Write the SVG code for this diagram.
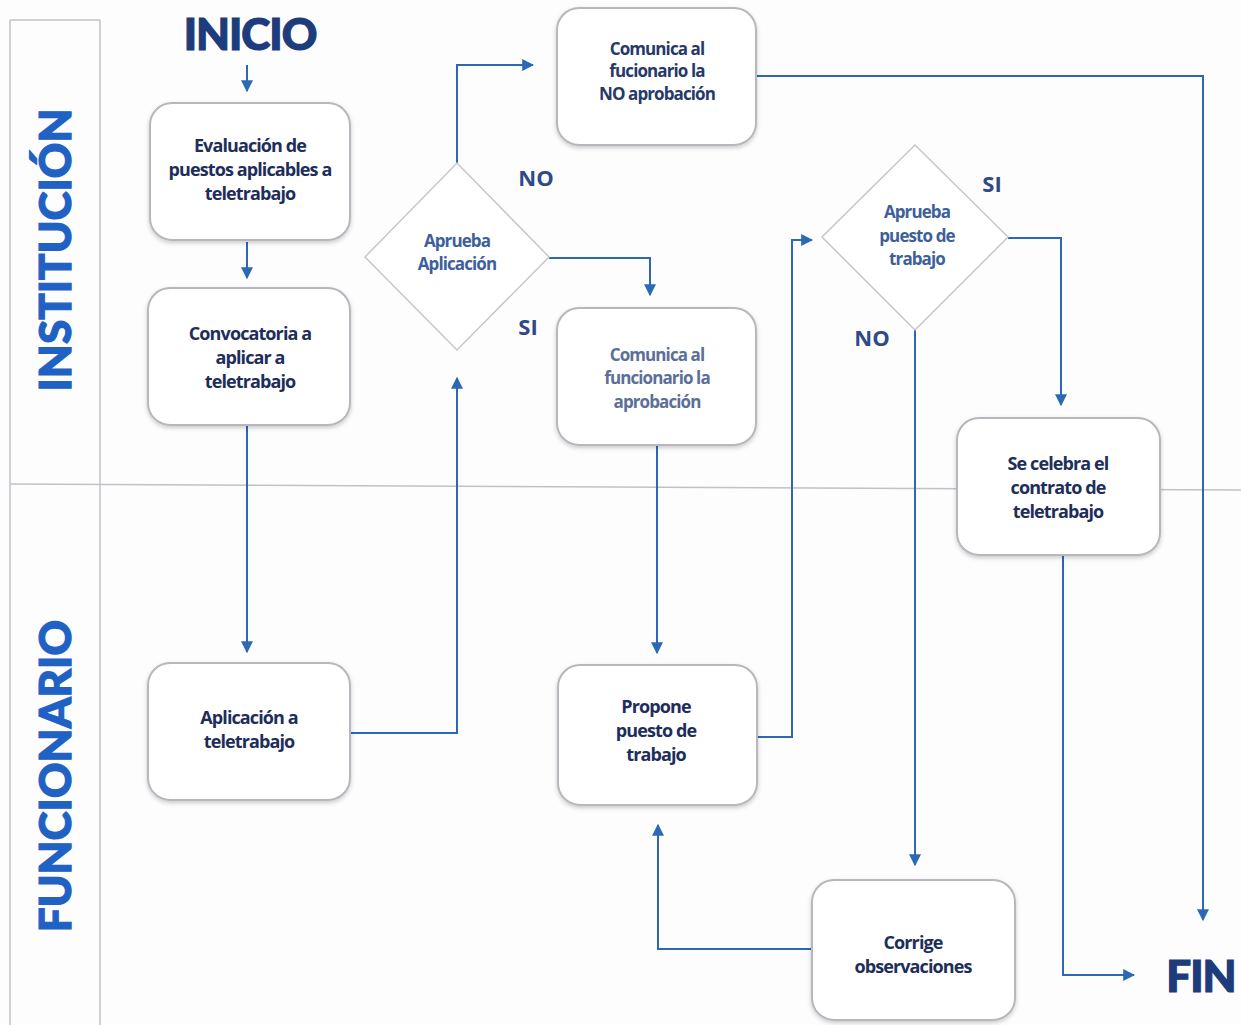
<svg xmlns="http://www.w3.org/2000/svg" width="1241" height="1025" viewBox="0 0 1241 1025">
<defs>
<style>
.box{fill:#fff;stroke:#b9b6bd;stroke-width:2}
.dia{fill:#fff;stroke:#c8c5cc;stroke-width:1.5}
.t{font-family:"Open Sans","Liberation Sans",sans-serif;font-weight:bold;font-size:18px;fill:#1d2e5a;text-anchor:middle;letter-spacing:-0.9px}
.tl{font-family:"Open Sans","Liberation Sans",sans-serif;font-weight:bold;font-size:17px;fill:#3d5f9c;text-anchor:middle;letter-spacing:-0.9px}
.lbl{font-family:"Open Sans","Liberation Sans",sans-serif;font-weight:bold;font-size:22px;fill:#2d4a86;text-anchor:middle}
.lane{font-family:Lato,"Liberation Sans",sans-serif;font-weight:900;font-size:44px;fill:#1f62c4;stroke:#1f62c4;stroke-width:1.2;text-anchor:middle}
.big{font-family:Lato,"Liberation Sans",sans-serif;font-weight:900;font-size:44px;fill:#1c3c7c;stroke:#1c3c7c;stroke-width:1.2;text-anchor:middle;letter-spacing:-1px}
.c{fill:none;stroke:#2b68b5;stroke-width:2}
.grid{stroke:#c3c0c8;stroke-width:1.5;fill:none}
</style>
<marker id="a" viewBox="0 0 10 10" refX="9" refY="5" markerWidth="6" markerHeight="6" orient="auto-start-reverse" markerUnits="strokeWidth">
<path d="M0,0 L10,5 L0,10 z" fill="#2b68b5"/>
</marker>
<filter id="sh" x="-10%" y="-10%" width="120%" height="125%">
<feDropShadow dx="0" dy="2" stdDeviation="2" flood-color="#000" flood-opacity="0.2"/>
</filter>
</defs>
<rect width="1241" height="1025" fill="#fdfdfd"/>
<g id="lanes">
<line class="grid" x1="10" y1="20" x2="10" y2="1025"/>
<line class="grid" x1="100" y1="20" x2="100" y2="1025"/>
<line class="grid" x1="10" y1="20" x2="100" y2="20"/>
<line class="grid" x1="10" y1="484" x2="1241" y2="490"/>
<text class="lane" transform="translate(71,250) rotate(-90)">INSTITUCIÓN</text>
<text class="lane" transform="translate(71,776) rotate(-90)">FUNCIONARIO</text>
</g>
<g id="connectors">
<line class="c" x1="247" y1="65" x2="247" y2="91" marker-end="url(#a)"/>
<line class="c" x1="247" y1="242" x2="247" y2="278" marker-end="url(#a)"/>
<line class="c" x1="247" y1="426" x2="247" y2="652" marker-end="url(#a)"/>
<polyline class="c" points="350,733 457,733 457,378" marker-end="url(#a)"/>
<polyline class="c" points="457,163 457,65 533,65" marker-end="url(#a)"/>
<polyline class="c" points="549,258 650,258 650,295" marker-end="url(#a)" stroke-width="1.5"/>
<line class="c" x1="657" y1="446" x2="657" y2="653" marker-end="url(#a)"/>
<polyline class="c" points="757,737 792,737 792,240 812,240" marker-end="url(#a)"/>
<polyline class="c" points="1008,238 1061,238 1061,405" marker-end="url(#a)"/>
<line class="c" x1="915" y1="330" x2="915" y2="865" marker-end="url(#a)"/>
<polyline class="c" points="812,949 658,949 658,825" marker-end="url(#a)"/>
<polyline class="c" points="756,76 1203,76 1203,920" marker-end="url(#a)"/>
<polyline class="c" points="1063,556 1063,975 1134,975" marker-end="url(#a)"/>
</g>
<g id="inicio"><text class="big" x="250" y="50">INICIO</text></g>
<g id="fin"><text class="big" x="1201" y="992">FIN</text></g>
<g id="evaluacion">
<rect class="box" x="150" y="103" width="200" height="137" rx="22" filter="url(#sh)"/>
<text class="t" x="250" y="152">Evaluación de</text>
<text class="t" x="250" y="176">puestos aplicables a</text>
<text class="t" x="250" y="200">teletrabajo</text>
</g>
<g id="convocatoria">
<rect class="box" x="148" y="288" width="202" height="137" rx="22" filter="url(#sh)"/>
<text class="t" x="250" y="340">Convocatoria a</text>
<text class="t" x="250" y="364">aplicar a</text>
<text class="t" x="250" y="388">teletrabajo</text>
</g>
<g id="aplicacion">
<rect class="box" x="148" y="663" width="202" height="137" rx="22" filter="url(#sh)"/>
<text class="t" x="249" y="724">Aplicación a</text>
<text class="t" x="249" y="748">teletrabajo</text>
</g>
<g id="aprueba-aplicacion">
<polygon class="dia" points="457,163 549,257 457,350 365,257"/>
<text class="tl" x="457" y="247">Aprueba</text>
<text class="tl" x="457" y="270">Aplicación</text>
</g>
<g id="comunica-no">
<rect class="box" x="557" y="8" width="199" height="137" rx="22" filter="url(#sh)"/>
<text class="tl" x="657" y="55" style="fill:#26396a">Comunica al</text>
<text class="tl" x="657" y="77" style="fill:#26396a">fucionario la</text>
<text class="tl" x="657" y="100" style="fill:#26396a">NO aprobación</text>
</g>
<g id="comunica-si">
<rect class="box" x="557" y="308" width="199" height="137" rx="22" filter="url(#sh)"/>
<text class="tl" x="657" y="361" style="fill:#5b6f98">Comunica al</text>
<text class="tl" x="657" y="384" style="fill:#5b6f98">funcionario la</text>
<text class="tl" x="657" y="408" style="fill:#5b6f98">aprobación</text>
</g>
<g id="propone">
<rect class="box" x="558" y="665" width="199" height="140" rx="22" filter="url(#sh)"/>
<text class="t" x="656" y="713">Propone</text>
<text class="t" x="656" y="737">puesto de</text>
<text class="t" x="656" y="761">trabajo</text>
</g>
<g id="aprueba-puesto">
<polygon class="dia" points="915,145 1008,237 915,330 822,237"/>
<text class="tl" x="917" y="218">Aprueba</text>
<text class="tl" x="917" y="242">puesto de</text>
<text class="tl" x="917" y="265">trabajo</text>
</g>
<g id="celebra">
<rect class="box" x="957" y="418" width="203" height="137" rx="22" filter="url(#sh)"/>
<text class="t" x="1058" y="470">Se celebra el</text>
<text class="t" x="1058" y="494">contrato de</text>
<text class="t" x="1058" y="518">teletrabajo</text>
</g>
<g id="corrige">
<rect class="box" x="812" y="880" width="203" height="140" rx="22" filter="url(#sh)"/>
<text class="t" x="913" y="949">Corrige</text>
<text class="t" x="913" y="973">observaciones</text>
</g>
<g id="labels">
<text class="lbl" x="536" y="186">NO</text>
<text class="lbl" x="528" y="335">SI</text>
<text class="lbl" x="992" y="192">SI</text>
<text class="lbl" x="872" y="346">NO</text>
</g>
</svg>
